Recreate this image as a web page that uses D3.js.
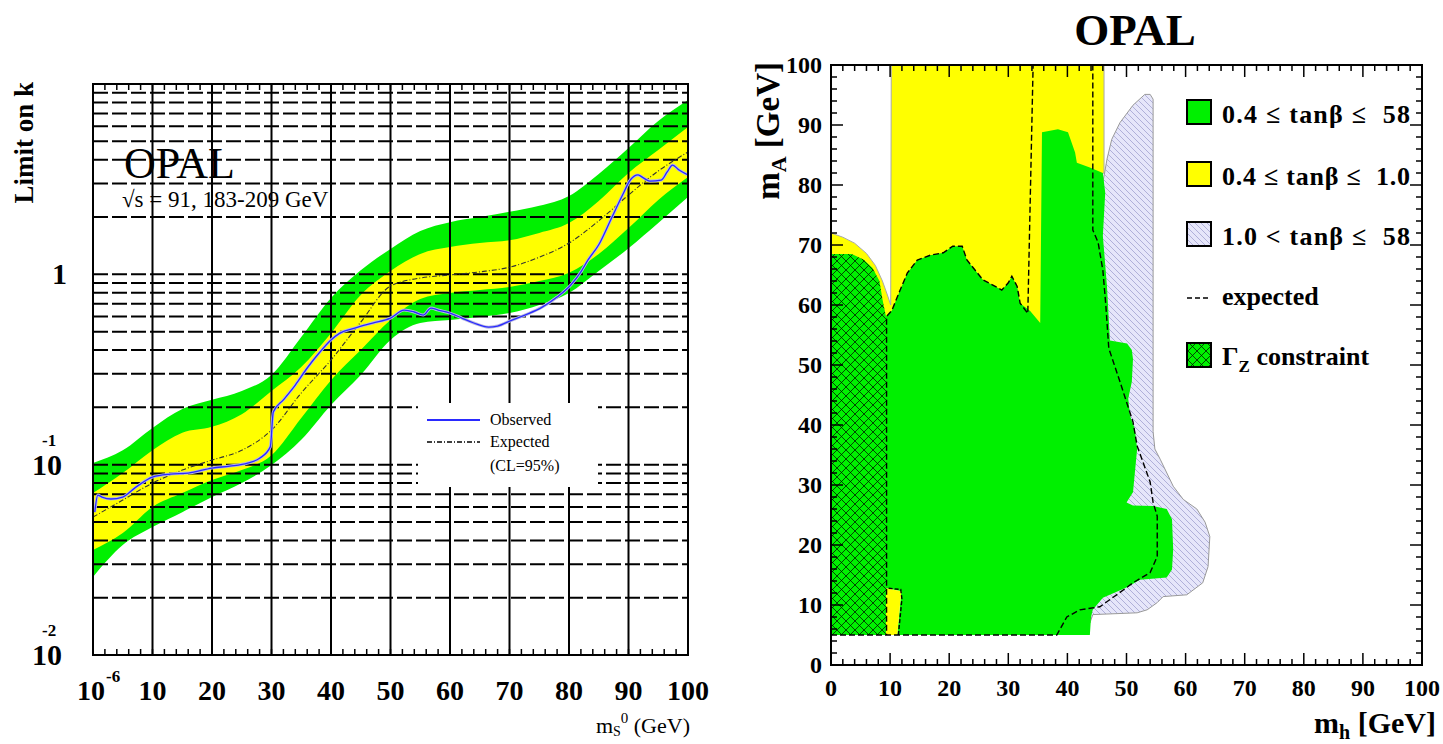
<!DOCTYPE html>
<html>
<head>
<meta charset="utf-8">
<script src="https://cdn.jsdelivr.net/npm/d3@7"></script>
<style>
body { margin: 0; background: #fff; }
svg text { font-family: "Liberation Serif", "Times New Roman", serif; }
</style>
</head>
<body>
<svg id="chart" width="1443" height="744"></svg>
<script>
// ---- left panel: limit on k vs m_S0 ----
var massGrid = [0, 5, 10, 15, 20, 25, 30, 35, 40, 45, 50, 55, 60, 65, 70, 75, 80, 85, 90, 95, 100];
var band2Up  = [0.102, 0.119, 0.156, 0.196, 0.219, 0.244, 0.296, 0.468, 0.751, 1.05, 1.36, 1.69, 1.88, 2.00, 2.13, 2.29, 2.58, 3.37, 4.61, 6.39, 8.24];
var band1Up  = [0.0709, 0.0903, 0.119, 0.147, 0.158, 0.184, 0.244, 0.326, 0.491, 0.778, 1.04, 1.28, 1.39, 1.46, 1.51, 1.65, 1.86, 2.43, 3.41, 4.50, 5.94];
var expected = [0.0530, 0.0652, 0.0800, 0.0937, 0.1057, 0.119, 0.152, 0.238, 0.355, 0.561, 0.868, 0.956, 0.992, 1.03, 1.09, 1.23, 1.46, 1.91, 2.61, 3.49, 4.39];
var band1Dn  = [0.0356, 0.0437, 0.0599, 0.0709, 0.0830, 0.0937, 0.112, 0.176, 0.278, 0.400, 0.575, 0.742, 0.798, 0.827, 0.858, 0.922, 1.02, 1.28, 1.75, 2.46, 3.25];
var band2Dn  = [0.0257, 0.0378, 0.0470, 0.0563, 0.0676, 0.0800, 0.0995, 0.135, 0.206, 0.296, 0.452, 0.555, 0.575, 0.597, 0.626, 0.690, 0.798, 1.04, 1.37, 1.86, 2.55];

var obsMass  = [0.3, 0.8, 1.5, 3, 5, 7, 10, 13, 16, 20, 23, 26, 28, 29.8, 30.3, 32, 34, 36, 38, 40, 41.5, 44, 47, 50, 52.3, 54, 55.5, 56.8, 58, 60, 62, 64, 66.5, 68, 70.4, 73, 75.5, 78, 80.3, 82, 83.2, 85, 87, 89, 90.3, 91.6, 92.5, 93.6, 95.5, 96.5, 97.4, 98.5, 100];
var obsLimit = [0.0563, 0.0692, 0.0676, 0.0660, 0.0676, 0.0753, 0.0861, 0.0892, 0.0903, 0.0960, 0.0983, 0.102, 0.108, 0.124, 0.189, 0.219, 0.262, 0.322, 0.386, 0.452, 0.491, 0.522, 0.555, 0.589, 0.649, 0.634, 0.611, 0.665, 0.649, 0.626, 0.589, 0.555, 0.528, 0.535, 0.575, 0.618, 0.673, 0.760, 0.879, 1.03, 1.19, 1.43, 1.93, 2.61, 3.13, 3.33, 3.21, 3.09, 3.13, 3.45, 3.75, 3.53, 3.33];

var leftXTicks = [0, 10, 20, 30, 40, 50, 60, 70, 80, 90, 100];
var leftXLabels = ["10", "10", "20", "30", "40", "50", "60", "70", "80", "90", "100"];

// ---- right panel: excluded (m_h, m_A) regions ----
var greenRegion = [[11.2,5],[43.8,5],[44.0,8],[44.3,9.2],[46,11.2],[50,12.9],[52.3,14.2],[56.8,14.6],[57.7,15.9],[57.9,19.3],[57.7,24.3],[56.8,26],[54.5,26.5],[51.1,26.6],[50,27.1],[51.1,28.8],[51.8,36],[51.4,39.4],[50.6,41.5],[50.3,44.4],[50.9,47.2],[51.1,51],[50.9,52.5],[50.1,53.6],[47.2,54.1],[46.7,63.1],[46,71.5],[46.4,78.7],[46,82],[43.8,82.9],[41.6,83.7],[41.3,85.4],[40.1,88.8],[38.4,89.3],[35.7,88.8],[35.4,57],[33.7,59],[32,60.3],[31.5,63.1],[30.6,64.8],[30,63.7],[28.9,62.5],[25.7,64.2],[23,67.5],[22.2,69.8],[20.6,69.8],[19,68.7],[16.8,68.3],[14.6,67.5],[12.9,65.3],[11.7,62.5],[10.3,59.1],[9.3,58.1],[9.3,12.8],[11.9,12.3]];
var gammaZRegion = [[0,5],[0,68.5],[3.5,68.5],[5.5,67.6],[7,66.2],[8.2,64],[8.7,61],[9.3,58.1],[9.3,5]];
var yellowRegion = [[0,72],[2,71.3],[4,70.3],[6,68.6],[7.5,66.6],[8.7,64],[9.6,61.5],[10.1,60],[10.2,100],[46.2,100],[46.2,82],[40,80],[36,56],[20,55],[9,55],[0,55]];
var yellowSliver = [[9.3,5],[9.3,12.8],[11.9,12.3],[11.2,5]];
var lavenderRegion = [[43.8,7],[44.3,8.4],[51.8,8.7],[53.5,9.2],[55.2,10.4],[56.2,11.4],[60.2,11.7],[62.9,13.7],[63.8,16.4],[64.1,21.4],[63.3,23.8],[61.9,26],[59.6,27.6],[57.9,29.8],[55.7,34.3],[54.8,36],[54.5,38.9],[54.5,52.8],[54.5,94.3],[54,95.1],[53.1,95.1],[51.1,93.3],[48.9,90.4],[47.5,87.6],[46.7,84.3],[46.4,82.6],[45,75]];
var expectedContour = [[0,5],[38.2,5],[39.9,8],[42.1,9.2],[45.5,9.7],[48.9,12.1],[51.1,13.7],[54,15.4],[55.2,18.1],[55.2,24.8],[54.5,27.1],[54,30.5],[52.8,33.8],[51.8,36.5],[51.1,40.5],[48.9,47.2],[47,52.8],[46.5,60],[46,65.8],[45.2,70.4],[44.3,72.5],[44.3,100],[34.2,100],[33.3,58.6],[32,60.3],[31.5,63.1],[30.6,64.8],[30,63.7],[28.9,62.5],[25.7,64.2],[23,67.5],[22.2,69.8],[20.6,69.8],[19,68.7],[16.8,68.3],[14.6,67.5],[12.9,65.3],[11.7,62.5],[10.3,59.1],[9.4,58.1],[9.4,5]];
var expectedSliver = [[11.4,5],[12,11],[11.8,12.6],[9.6,12.8]];

var legendLabels = ["0.4 \u2264 tan\u03b2 \u2264  58", "0.4 \u2264 tan\u03b2 \u2264  1.0", "1.0 < tan\u03b2 \u2264  58"];
var rightTicks = [0, 10, 20, 30, 40, 50, 60, 70, 80, 90, 100];

var svg = d3.select("#chart");
var defs = svg.append("defs");
var serif = "Liberation Serif";

var green = "#00f000", yellow = "#ffff00";

// cross hatch for the Gamma_Z region
var ph = defs.append("pattern").attr("id", "xhatch").attr("patternUnits", "userSpaceOnUse")
  .attr("width", 9).attr("height", 9);
ph.append("rect").attr("width", 9).attr("height", 9).attr("fill", green);
ph.append("path").attr("d", "M0,0L9,9M9,0L0,9").attr("stroke", "#000").attr("stroke-width", 0.7);

// light hatch for 1.0 < tanb region
var pl = defs.append("pattern").attr("id", "lhatch").attr("patternUnits", "userSpaceOnUse")
  .attr("width", 6).attr("height", 6);
pl.append("rect").attr("width", 6).attr("height", 6).attr("fill", "#e6e6fa");
pl.append("path").attr("d", "M0,0L6,6M-1,5L1,7M5,-1L7,1").attr("stroke", "#9a9acc").attr("stroke-width", 0.7);

// =================== LEFT PANEL ===================
var xL = d3.scaleLinear().domain([0, 100]).range([93, 688]);
var yL = d3.scaleLog().domain([0.01, 10]).range([655, 84]);

defs.append("clipPath").attr("id", "clipL").append("rect")
  .attr("x", 93).attr("y", 84).attr("width", 595).attr("height", 571);

var bands = massGrid.map(function(m, i) {
  return {m: m, u2: band2Up[i], u1: band1Up[i], e: expected[i], d1: band1Dn[i], d2: band2Dn[i]};
});

var gL = svg.append("g").attr("clip-path", "url(#clipL)");

gL.append("path").datum(bands)
  .attr("fill", green)
  .attr("d", d3.area().curve(d3.curveMonotoneX)
    .x(function(d) { return xL(d.m); })
    .y0(function(d) { return yL(d.d2); })
    .y1(function(d) { return yL(d.u2); }));

gL.append("path").datum(bands)
  .attr("fill", yellow)
  .attr("d", d3.area().curve(d3.curveMonotoneX)
    .x(function(d) { return xL(d.m); })
    .y0(function(d) { return yL(d.d1); })
    .y1(function(d) { return yL(d.u1); }));

// horizontal grid (dashed) and vertical grid (solid)
gL.selectAll(".hgrid").data(yL.ticks().filter(function(v) { return v > 0.0101 && v < 9.99; }))
  .enter().append("line")
  .attr("x1", 93).attr("x2", 688)
  .attr("y1", function(d) { return yL(d); }).attr("y2", function(d) { return yL(d); })
  .attr("stroke", "#000").attr("stroke-width", 2).attr("stroke-dasharray", "15,4");

gL.selectAll(".vgrid").data(leftXTicks.slice(1, -1))
  .enter().append("line")
  .attr("x1", function(d) { return xL(d); }).attr("x2", function(d) { return xL(d); })
  .attr("y1", 84).attr("y2", 655)
  .attr("stroke", "#000").attr("stroke-width", 2);

// small ticks on top and bottom edges
var minorL = d3.range(0, 101, 2);
gL.selectAll(".tb").data(minorL).enter().append("line")
  .attr("x1", function(d) { return xL(d); }).attr("x2", function(d) { return xL(d); })
  .attr("y1", 655).attr("y2", 649).attr("stroke", "#000").attr("stroke-width", 1.5);
gL.selectAll(".tt").data(minorL).enter().append("line")
  .attr("x1", function(d) { return xL(d); }).attr("x2", function(d) { return xL(d); })
  .attr("y1", 84).attr("y2", 90).attr("stroke", "#000").attr("stroke-width", 1.5);

// expected (dash-dot) and observed
gL.append("path").datum(bands)
  .attr("fill", "none").attr("stroke", "#333").attr("stroke-width", 1.1)
  .attr("stroke-dasharray", "5,2,1,2")
  .attr("d", d3.line().curve(d3.curveMonotoneX)
    .x(function(d) { return xL(d.m); })
    .y(function(d) { return yL(d.e); }));

var obs = obsMass.map(function(m, i) { return [m, obsLimit[i]]; });
var obsLine = d3.line().curve(d3.curveMonotoneX).x(function(d) { return xL(d[0]); }).y(function(d) { return yL(d[1]); });
gL.append("path").datum(obs).attr("fill", "none").attr("stroke", "#b8b8e0").attr("stroke-width", 3).attr("d", obsLine);
gL.append("path").datum(obs).attr("fill", "none").attr("stroke", "#2a2aff").attr("stroke-width", 1.3).attr("d", obsLine);

// frame
svg.append("rect").attr("x", 93).attr("y", 84).attr("width", 595).attr("height", 571)
  .attr("fill", "none").attr("stroke", "#000").attr("stroke-width", 2);

// legend
svg.append("rect").attr("x", 418).attr("y", 403).attr("width", 180).attr("height", 84).attr("fill", "#fff");
svg.append("line").attr("x1", 427).attr("x2", 480).attr("y1", 420).attr("y2", 420)
  .attr("stroke", "#2a2aff").attr("stroke-width", 2);
svg.append("line").attr("x1", 427).attr("x2", 480).attr("y1", 442).attr("y2", 442)
  .attr("stroke", "#000").attr("stroke-width", 1.3).attr("stroke-dasharray", "5,2,1,2");
svg.append("text").attr("x", 490).attr("y", 425).attr("font-family", serif).attr("font-size", 16).text("Observed");
svg.append("text").attr("x", 490).attr("y", 447).attr("font-family", serif).attr("font-size", 16).text("Expected");
svg.append("text").attr("x", 490).attr("y", 471).attr("font-family", serif).attr("font-size", 16).text("(CL=95%)");

// OPAL label
svg.append("text").attr("x", 124).attr("y", 178).attr("font-family", serif).attr("font-size", 44).text("OPAL");
svg.append("text").attr("x", 122).attr("y", 207).attr("font-family", serif).attr("font-size", 23).text("\u221as = 91, 183-209 GeV");

// axis labels
svg.append("text").attr("transform", "translate(33,82) rotate(-90)").attr("font-family", serif)
  .attr("text-anchor", "end").attr("font-size", 27).attr("font-weight", "bold").text("Limit on k");

svg.append("text").attr("x", 67).attr("y", yL(1) + 10).attr("text-anchor", "end").attr("font-family", serif)
  .attr("font-size", 30).attr("font-weight", "bold").text("1");
[[0.1, "-1"], [0.01, "-2"]].forEach(function(t) {
  svg.append("text").attr("x", 62).attr("y", yL(t[0]) + 10).attr("text-anchor", "end").attr("font-family", serif)
    .attr("font-size", 30).attr("font-weight", "bold").text("10");
  svg.append("text").attr("x", 42).attr("y", yL(t[0]) - 19).attr("font-family", serif)
    .attr("font-size", 17).attr("font-weight", "bold").text(t[1]);
});

svg.selectAll(".xlabL").data(leftXTicks).enter().append("text")
  .attr("x", function(d) { return d === 0 ? xL(d) + 12 : xL(d); })
  .attr("y", 700).attr("text-anchor", function(d) { return d === 0 ? "end" : "middle"; })
  .attr("font-family", serif).attr("font-size", 28).attr("font-weight", "bold")
  .text(function(d, i) { return leftXLabels[i]; });
svg.append("text").attr("x", xL(0) + 13).attr("y", 682).attr("font-family", serif)
  .attr("font-size", 17).attr("font-weight", "bold").text("-6");

var xl = svg.append("text").attr("x", 690).attr("y", 733).attr("text-anchor", "end")
  .attr("font-family", serif).attr("font-size", 22);
xl.append("tspan").text("m");
xl.append("tspan").attr("font-size", 14).attr("dy", 3).text("S");
xl.append("tspan").attr("font-size", 15).attr("dy", -13).text("0");
xl.append("tspan").attr("dy", 10).text(" (GeV)");

// =================== RIGHT PANEL ===================
var xR = d3.scaleLinear().domain([0, 100]).range([831, 1422]);
var yR = d3.scaleLinear().domain([0, 100]).range([665, 65]);
var poly = d3.line().x(function(d) { return xR(d[0]); }).y(function(d) { return yR(d[1]); });

svg.append("path").attr("d", poly(yellowRegion) + "Z")
  .attr("fill", yellow).attr("stroke", "#aaa").attr("stroke-width", 1);
svg.append("path").attr("d", poly(lavenderRegion) + "Z")
  .attr("fill", "url(#lhatch)").attr("stroke", "#999").attr("stroke-width", 1);
svg.append("path").attr("d", poly(greenRegion) + "Z").attr("fill", green);
svg.append("path").attr("d", poly(yellowSliver) + "Z").attr("fill", yellow);
svg.append("path").attr("d", poly(gammaZRegion) + "Z").attr("fill", "url(#xhatch)");

svg.append("path").attr("d", poly(expectedContour))
  .attr("fill", "none").attr("stroke", "#000").attr("stroke-width", 1.4).attr("stroke-dasharray", "6,3");
svg.append("path").attr("d", poly(expectedSliver))
  .attr("fill", "none").attr("stroke", "#000").attr("stroke-width", 1.4).attr("stroke-dasharray", "4,2");

// frame and ticks
svg.append("rect").attr("x", 831).attr("y", 65).attr("width", 591).attr("height", 600)
  .attr("fill", "none").attr("stroke", "#000").attr("stroke-width", 2);
var minorR = d3.range(0, 101, 2);
function tl(d) { return d % 10 === 0 ? 12 : 6; }
var gT = svg.append("g").attr("stroke", "#000").attr("stroke-width", 1.5);
minorR.forEach(function(d) {
  gT.append("line").attr("x1", xR(0)).attr("x2", xR(0) + tl(d)).attr("y1", yR(d)).attr("y2", yR(d));
  gT.append("line").attr("x1", xR(100)).attr("x2", xR(100) - tl(d)).attr("y1", yR(d)).attr("y2", yR(d));
  gT.append("line").attr("x1", xR(d)).attr("x2", xR(d)).attr("y1", yR(0)).attr("y2", yR(0) - tl(d));
  gT.append("line").attr("x1", xR(d)).attr("x2", xR(d)).attr("y1", yR(100)).attr("y2", yR(100) + tl(d));
});

svg.selectAll(".ylabR").data(rightTicks).enter().append("text")
  .attr("x", 822).attr("y", function(d) { return yR(d) + 8; }).attr("text-anchor", "end")
  .attr("font-family", serif).attr("font-size", 24).attr("font-weight", "bold").text(function(d) { return d; });
svg.selectAll(".xlabR").data(rightTicks).enter().append("text")
  .attr("x", function(d) { return xR(d); }).attr("y", 696).attr("text-anchor", "middle")
  .attr("font-family", serif).attr("font-size", 24).attr("font-weight", "bold").text(function(d) { return d; });

var yTitle = svg.append("text").attr("transform", "translate(779,62) rotate(-90)")
  .attr("text-anchor", "end").attr("font-family", serif).attr("font-size", 33).attr("font-weight", "bold");
yTitle.append("tspan").text("m");
yTitle.append("tspan").attr("font-size", 22).attr("dy", 7).text("A");
yTitle.append("tspan").attr("dy", -7).text(" [GeV]");

var xTitle = svg.append("text").attr("x", 1436).attr("y", 733).attr("text-anchor", "end")
  .attr("font-family", serif).attr("font-size", 30).attr("font-weight", "bold");
xTitle.append("tspan").text("m");
xTitle.append("tspan").attr("font-size", 20).attr("dy", 6).text("h");
xTitle.append("tspan").attr("dy", -6).text(" [GeV]");

svg.append("text").attr("x", 1135).attr("y", 45).attr("text-anchor", "middle")
  .attr("font-family", serif).attr("font-size", 45).attr("font-weight", "bold").text("OPAL");

// legend
var legFills = [green, yellow, "url(#lhatch)"];
legendLabels.forEach(function(lab, i) {
  var y0 = [100, 162, 222][i];
  svg.append("rect").attr("x", 1187).attr("y", y0).attr("width", 24).attr("height", 24)
    .attr("fill", legFills[i]).attr("stroke", "#000").attr("stroke-width", 2);
  svg.append("text").attr("x", 1222).attr("y", y0 + 23).attr("font-family", serif)
    .attr("font-size", 26).attr("font-weight", "bold")
    .attr("textLength", 188).attr("lengthAdjust", "spacing")
    .style("white-space", "pre").text(lab);
});
svg.append("line").attr("x1", 1187).attr("x2", 1211).attr("y1", 298).attr("y2", 298)
  .attr("stroke", "#000").attr("stroke-width", 1.6).attr("stroke-dasharray", "5,3");
svg.append("text").attr("x", 1222).attr("y", 305).attr("font-family", serif)
  .attr("font-size", 26).attr("font-weight", "bold").text("expected");
svg.append("rect").attr("x", 1187).attr("y", 343).attr("width", 24).attr("height", 24)
  .attr("fill", "url(#xhatch)").attr("stroke", "#000").attr("stroke-width", 2);
var gz = svg.append("text").attr("x", 1222).attr("y", 365).attr("font-family", serif)
  .attr("font-size", 26).attr("font-weight", "bold");
gz.append("tspan").text("\u0393");
gz.append("tspan").attr("font-size", 17).attr("dy", 7).text("Z");
gz.append("tspan").attr("dy", -7).text(" constraint");
</script>
</body>
</html>
